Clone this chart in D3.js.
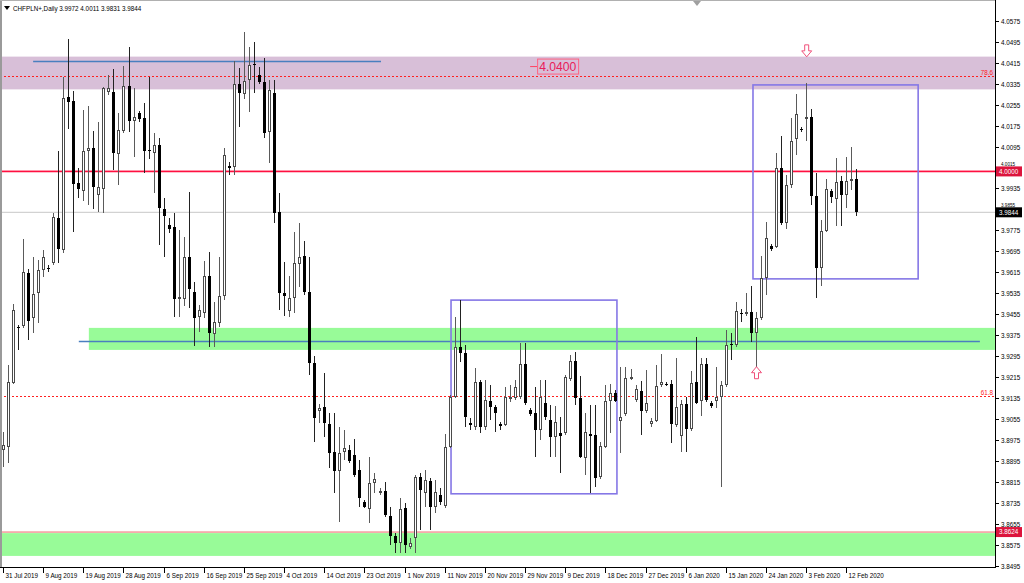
<!DOCTYPE html>
<html><head><meta charset="utf-8">
<script src="https://cdn.jsdelivr.net/npm/d3@7"></script>
<style>html,body{margin:0;padding:0;background:#fff;overflow:hidden}svg{display:block;font-family:"Liberation Sans",Arial,sans-serif}</style>
</head><body><div id="chart"></div>
<script>
// ---- data (daily CHFPLN+ bars) ----
const open  = [3.8937,3.8950,3.9194,3.9405,3.9410,3.9613,3.9441,3.9535,3.9624,3.9633,3.9649,3.9823,3.9700,4.0282,4.0268,3.9955,3.9925,4.0078,4.0091,3.9910,3.9933,4.0302,4.0304,4.0066,4.0154,4.0326,4.0194,4.0222,4.0203,4.0082,4.0071,4.0101,3.9855,3.9796,3.9789,3.9512,3.9512,3.9675,3.9539,3.9445,3.9460,3.9601,3.9379,3.9422,3.9525,4.0021,4.0018,4.0332,4.0294,4.0349,4.0410,4.0368,4.0342,4.0152,4.0298,3.9846,3.9537,3.9468,3.9516,3.9646,3.9677,3.9541,3.9268,3.9086,3.9102,3.9036,3.8931,3.8858,3.8931,3.8937,3.8918,3.8861,3.8740,3.8711,3.8810,3.8772,3.8782,3.8685,3.8609,3.8584,3.8715,3.8566,3.8600,3.8835,3.8772,3.8820,3.8721,3.8765,3.8724,3.8950,3.9141,3.9331,3.9308,3.9042,3.9026,3.9198,3.9026,3.9125,3.9100,3.9036,3.9033,3.9131,3.9134,3.9138,3.9265,3.9090,3.9077,3.9014,3.9118,3.9052,3.8988,3.9003,3.9001,3.9207,3.9277,3.9134,3.8906,3.8998,3.8995,3.8833,3.8950,3.9125,3.9154,3.9049,3.9075,3.9209,3.9128,3.9163,3.9087,3.9036,3.9049,3.9185,3.9189,3.9189,3.9033,3.8991,3.9113,3.9017,3.9198,3.9125,3.9265,3.9118,3.9125,3.9141,3.9185,3.9342,3.9338,3.9459,3.9456,3.9465,3.9385,3.9440,3.9592,3.9717,3.9713,4.0012,3.9804,3.9948,4.0123,4.0161,4.0199,4.0207,3.9907,3.9633,3.9773,3.9926,3.9895,3.9963,3.9910,3.9962,3.9972];
const high  = [3.9006,3.9262,3.9493,3.9414,3.9742,3.9627,3.9673,3.9662,3.9700,3.9643,3.9841,4.0076,4.0361,4.0504,4.0307,4.0014,4.0234,4.0251,4.0155,4.0187,4.0321,4.0368,4.0391,4.0222,4.0403,4.0476,4.0317,4.0231,4.0260,4.0361,4.0145,4.0129,3.9897,3.9821,3.9840,3.9777,3.9749,3.9923,3.9579,3.9490,3.9658,3.9694,3.9503,3.9673,4.0088,4.0037,4.0421,4.0393,4.0533,4.0476,4.0495,4.0400,4.0432,4.0349,4.0349,3.9919,3.9656,3.9601,3.9770,3.9804,3.9736,3.9675,3.9296,3.9113,3.9230,3.9078,3.9077,3.9026,3.9014,3.8956,3.8978,3.8899,3.8746,3.8912,3.8848,3.8792,3.8816,3.8721,3.8619,3.8753,3.8734,3.8602,3.8842,3.8849,3.8861,3.8829,3.8823,3.8792,3.8998,3.9147,3.9443,3.9509,3.9338,3.9059,3.9249,3.9204,3.9204,3.9185,3.9109,3.9045,3.9179,3.9185,3.9204,3.9344,3.9344,3.9098,3.9179,3.9204,3.9204,3.9109,3.9105,3.9064,3.9223,3.9300,3.9312,3.9220,3.9077,3.9109,3.9109,3.8969,3.9185,3.9189,3.9166,3.9253,3.9253,3.9246,3.9185,3.9201,3.9242,3.9059,3.9262,3.9304,3.9197,3.9204,3.9287,3.9128,3.9141,3.9240,3.9367,3.9287,3.9288,3.9124,3.9253,3.9200,3.9395,3.9383,3.9503,3.9475,3.9535,3.9563,3.9465,3.9677,3.9808,3.9723,4.0069,4.0135,3.9986,4.0203,4.0295,4.0171,4.0338,4.0237,3.9995,3.9815,3.9970,3.9933,4.0050,3.9983,4.0056,4.0094,4.0011];
const low   = [3.8872,3.8887,3.9189,3.9319,3.9402,3.9357,3.9384,3.9422,3.9597,3.9616,3.9643,3.9651,3.9690,4.0160,3.9770,3.9897,3.9888,3.9872,3.9855,3.9846,3.9842,4.0292,4.0005,3.9948,4.0145,4.0152,4.0056,4.0189,3.9995,4.0046,3.9917,3.9719,3.9674,3.9764,3.9445,3.9445,3.9486,3.9478,3.9334,3.9388,3.9440,3.9331,3.9331,3.9405,3.9509,3.9986,3.9986,4.0171,4.0275,4.0228,4.0298,4.0334,4.0126,4.0031,3.9804,3.9471,3.9448,3.9445,3.9459,3.9560,3.9529,3.9223,3.8969,3.9041,3.8988,3.8868,3.8772,3.8663,3.8899,3.8887,3.8835,3.8721,3.8715,3.8657,3.8773,3.8765,3.8683,3.8575,3.8545,3.8545,3.8543,3.8560,3.8543,3.8632,3.8721,3.8632,3.8696,3.8727,3.8716,3.8945,3.9136,3.9274,3.9026,3.9014,3.9014,3.9003,3.9014,3.9052,3.9007,3.9014,3.9029,3.9120,3.9128,3.9132,3.9109,3.9067,3.8912,3.8976,3.9052,3.8912,3.8912,3.8851,3.8994,3.9201,3.9109,3.8907,3.8842,3.8772,3.8797,3.8825,3.8945,3.9003,3.9120,3.8927,3.9067,3.9204,3.9120,3.8995,3.9078,3.9025,3.9044,3.9178,3.9181,3.8963,3.9025,3.8930,3.8931,3.9010,3.9113,3.9067,3.9120,3.9098,3.9096,3.8797,3.9178,3.9281,3.9330,3.9427,3.9448,3.9350,3.9253,3.9433,3.9529,3.9697,3.9707,3.9796,3.9779,3.9936,4.0063,4.0152,4.0117,3.9872,3.9516,3.9563,3.9769,3.9881,3.9792,3.9792,3.9860,3.9929,3.9831];
const close = [3.8956,3.9198,3.9473,3.9403,3.9616,3.9430,3.9531,3.9624,3.9675,3.9632,3.9825,3.9703,4.0279,4.0266,3.9951,3.9934,4.0076,4.0091,3.9942,3.9942,4.0317,4.0317,4.0069,4.0158,4.0326,4.0194,4.0207,4.0199,4.0079,4.0078,4.0101,3.9859,3.9830,3.9780,3.9512,3.9522,3.9675,3.9550,3.9440,3.9471,3.9601,3.9385,3.9427,3.9525,4.0063,4.0012,4.0332,4.0298,4.0345,4.0406,4.0406,4.0342,4.0148,4.0311,3.9842,3.9535,3.9525,3.9516,3.9649,3.9675,3.9541,3.9270,3.9058,3.9096,3.9042,3.8927,3.8858,3.8927,3.8944,3.8896,3.8842,3.8753,3.8721,3.8810,3.8825,3.8782,3.8689,3.8609,3.8584,3.8711,3.8575,3.8581,3.8835,3.8784,3.8823,3.8721,3.8778,3.8740,3.8948,3.9141,3.9331,3.9308,3.9064,3.9034,3.9198,3.9024,3.9128,3.9100,3.9080,3.9029,3.9138,3.9141,3.9176,3.9265,3.9118,3.9075,3.9014,3.9138,3.9062,3.8988,3.9045,3.8991,3.9214,3.9277,3.9134,3.8912,3.9007,3.8991,3.8829,3.8953,3.9125,3.9154,3.9124,3.9064,3.9211,3.9217,3.9169,3.9087,3.9115,3.9049,3.9181,3.9198,3.9187,3.9036,3.9100,3.9113,3.9017,3.9194,3.9118,3.9265,3.9128,3.9105,3.9141,3.9185,3.9338,3.9337,3.9469,3.9457,3.9465,3.9385,3.9440,3.9592,3.9747,3.9704,4.0012,3.9802,3.9948,4.0117,4.0219,4.0160,4.0207,3.9907,3.9633,3.9773,3.9933,3.9901,3.9961,3.9910,3.9965,3.9970,3.9844];

const dateLabels = ["31 Jul 2019","9 Aug 2019","19 Aug 2019","28 Aug 2019","6 Sep 2019","16 Sep 2019","25 Sep 2019","4 Oct 2019","14 Oct 2019","23 Oct 2019","1 Nov 2019","11 Nov 2019","20 Nov 2019","29 Nov 2019","9 Dec 2019","18 Dec 2019","27 Dec 2019","6 Jan 2020","15 Jan 2020","24 Jan 2020","3 Feb 2020","12 Feb 2020"];
const barsPerDateLabel = 8;
const priceTicks = [4.0575,4.0495,4.0415,4.0335,4.0255,4.0175,4.0095,4.0015,3.9935,3.9855,3.9775,3.9695,3.9615,3.9535,3.9455,3.9375,3.9295,3.9215,3.9135,3.9055,3.8975,3.8895,3.8815,3.8735,3.8655,3.8575,3.8495];
const title = "CHFPLN+,Daily";
const priceTags = [{v:4.0000, txt:"4.0000", bg:"#dc143c"},{v:3.9844, txt:"3.9844", bg:"#000000"},{v:3.8624, txt:"3.8624", bg:"#dc143c"}];
const zones = [{from:4.0313, to:4.0438, startBar:-1, color:"#d8bfd8"},{from:3.9319, to:3.9403, startBar:17.1, color:"#98fb98"},{from:3.8533, to:3.8620, startBar:-1, color:"#98fb98"}];
const fibLevels = [{v:4.0363, txt:"78.6"},{v:3.9143, txt:"61.8"}];
const trendLines = [{v:4.0422, b0:6.0, b1:75.3},{v:3.9353, b0:15.1, b1:194.6}];
const boxes = [{b0:89.25, b1:122.3, lo:3.8770, hi:3.9509},{b0:149.4, b1:182.3, lo:3.9590, hi:4.0330}];
const priceLabel = {bar:106.4, v:4.0400, txt:"4.0400"};
const arrows = [{bar:160, v:4.0460, dir:"down"},{bar:150, v:3.9232, dir:"up"}];

// ---- drawing ----
const W = 1024, H = 583, plotR = 995, plotB = 567, plotT = 6;
const svg = d3.select("#chart").append("svg").attr("width", W).attr("height", H);
svg.append("rect").attr("width", W).attr("height", H).attr("fill", "#fff");

const x = d3.scaleLinear().domain([0, 170]).range([3, 3 + 5.02 * 170]);
const y = d3.scaleLinear().domain([3.84907, 4.06311]).range([plotB, plotT]);

const plot = svg.append("g");
svg.append("clipPath").attr("id", "pc").append("rect").attr("x", 0).attr("y", 0).attr("width", plotR).attr("height", plotB);
plot.attr("clip-path", "url(#pc)");

// zones
zones.forEach(z => {
  const x0 = z.startBar < 0 ? 0 : x(z.startBar);
  plot.append("rect").attr("x", x0).attr("width", plotR - x0)
    .attr("y", y(z.to)).attr("height", y(z.from) - y(z.to)).attr("fill", z.color);
});

// fib dotted lines
fibLevels.forEach(f => {
  const yy = Math.round(y(f.v)) + 0.5;
  plot.append("line").attr("x1", 0).attr("x2", plotR).attr("y1", yy).attr("y2", yy)
    .attr("stroke", "#ff2020").attr("stroke-width", 1).attr("stroke-dasharray", "2,2");
  plot.append("text").attr("x", plotR - 2).attr("y", yy - 2).attr("text-anchor", "end")
    .attr("font-size", 6.3).attr("fill", "#ff2020").text(f.txt);
});

// level lines (filled strips)
const lvl = (v, color, h) => {
  const yy = y(v);
  plot.append("rect").attr("x", 0).attr("width", plotR).attr("y", yy - h / 2).attr("height", h)
    .attr("fill", color);
};
lvl(priceTags[1].v, "#c8c8c8", 1);
lvl(priceTags[0].v, "#ff1040", 1.7);
lvl(priceTags[2].v, "#f08080", 1.2);

// trend lines
trendLines.forEach(t => {
  const yy = Math.round(y(t.v)) + 0.5;
  plot.append("line").attr("x1", x(t.b0)).attr("x2", x(t.b1)).attr("y1", yy).attr("y2", yy)
    .attr("stroke", "#4a7fbf").attr("stroke-width", 1.3);
});

// boxes
boxes.forEach(b => {
  plot.append("rect").attr("x", x(b.b0)).attr("y", y(b.hi))
    .attr("width", x(b.b1) - x(b.b0)).attr("height", y(b.lo) - y(b.hi))
    .attr("fill", "none").attr("stroke", "#8577e6").attr("stroke-width", 1.6);
});

// candles
const bars = open.map((o, i) => ({i, o, h: high[i], l: low[i], c: close[i]}));
const cg = plot.append("g").attr("shape-rendering", "crispEdges");
bars.forEach(d => {
  const cx = Math.round(x(d.i));
  const bull = d.c >= d.o;
  cg.append("line").attr("x1", cx + 0.5).attr("x2", cx + 0.5)
    .attr("y1", y(d.h)).attr("y2", y(d.l)).attr("stroke", bull ? "#5a5a5a" : "#222");
  const top = Math.round(y(Math.max(d.o, d.c)));
  const bot = Math.round(y(Math.min(d.o, d.c)));
  const hgt = Math.max(1, bot - top);
  cg.append("rect").attr("x", cx - 0.5).attr("y", top + 0.5).attr("width", 2).attr("height", Math.max(0.01, hgt - 1))
    .attr("fill", bull ? "#fff" : "#000").attr("stroke", bull ? "#4a4a4a" : "#000").attr("stroke-width", 1);
});

// price label object
{
  const yy = y(priceLabel.v);
  const x0 = x(priceLabel.bar);
  plot.append("line").attr("x1", x0 - 7).attr("x2", x0).attr("y1", yy).attr("y2", yy).attr("stroke", "#ff4060");
  const t = plot.append("text").attr("x", x0 + 2).attr("y", yy + 4.5).attr("font-size", 12.2)
    .attr("fill", "#e8205a").text(priceLabel.txt);
  const bb = t.node().getBBox();
  plot.append("rect").attr("x", x0 + 0.5).attr("y", yy - 7.5).attr("width", bb.width + 3.5).attr("height", 15)
    .attr("fill", "none").attr("stroke", "#ff6080").attr("stroke-width", 1);
}

// arrows
arrows.forEach(a => {
  const ax = x(a.bar) + 0.5, ay = y(a.v);
  const p = "M-2,-6 L2,-6 L2,0 L5,0 L0,6 L-5,0 L-2,0 Z";
  plot.append("path").attr("d", p)
    .attr("transform", `translate(${ax},${ay}) ${a.dir === "up" ? "rotate(180)" : ""}`)
    .attr("fill", "#fff").attr("stroke", "#f0507a").attr("stroke-width", 1);
});

// frame
svg.append("line").attr("x1", plotR + 0.5).attr("x2", plotR + 0.5).attr("y1", 0).attr("y2", plotB + 1).attr("stroke", "#000");
svg.append("line").attr("x1", 0).attr("x2", plotR + 1).attr("y1", plotB + 0.5).attr("y2", plotB + 0.5).attr("stroke", "#000");
svg.append("line").attr("x1", 1).attr("x2", 1).attr("y1", 0).attr("y2", plotB).attr("stroke", "#9a9a9a").attr("stroke-width", 2);
svg.append("line").attr("x1", 0).attr("x2", plotR).attr("y1", 0.5).attr("y2", 0.5).attr("stroke", "#b0b0b0");

// right price axis; labels that sit under a price tag peek out just above it, as in the reference
const ax = svg.append("g").attr("font-size", 6.3).attr("fill", "#000");
priceTicks.forEach(v => {
  const yy = Math.round(y(v)) + 0.5;
  ax.append("line").attr("x1", plotR).attr("x2", plotR + 4).attr("y1", yy).attr("y2", yy).attr("stroke", "#000");
  const tag = priceTags.find(t => Math.abs(y(t.v) - yy) < 7);
  if (tag) {
    ax.append("text").attr("x", plotR + 6).attr("y", y(tag.v) - 5.6)
      .attr("font-size", 4.6).text(v.toFixed(4));
  } else {
    ax.append("text").attr("x", plotR + 6).attr("y", yy + 2.3).text(v.toFixed(4));
  }
});
priceTags.forEach(t => {
  const yy = y(t.v);
  ax.append("rect").attr("x", plotR + 1).attr("y", yy - 5).attr("width", 26).attr("height", 10).attr("fill", t.bg);
  ax.append("text").attr("x", plotR + 4).attr("y", yy + 2.3).attr("fill", "#fff").text(t.txt);
});

// bottom date axis
const dx = svg.append("g").attr("font-size", 6.3).attr("fill", "#000");
dateLabels.forEach((lab, j) => {
  const xx = Math.round(x(j * barsPerDateLabel)) + 0.5;
  dx.append("line").attr("x1", xx).attr("x2", xx).attr("y1", plotB).attr("y2", plotB + 6).attr("stroke", "#000");
  dx.append("text").attr("x", xx + 2).attr("y", 578).text(lab);
});

// header
svg.append("path").attr("d", "M4,6 L10,6 L7,10 Z").attr("fill", "#000");
svg.append("text").attr("x", 13).attr("y", 11).attr("font-size", 6.3).attr("fill", "#000")
  .text(`${title}  ${open[170].toFixed(4)} ${high[170].toFixed(4)} ${low[170].toFixed(4)} ${close[170].toFixed(4)}`);
// chart shift marker
svg.append("path").attr("d", "M693,1 L701,1 L697,6 Z").attr("fill", "#a0a0a0");
</script>
</body></html>
